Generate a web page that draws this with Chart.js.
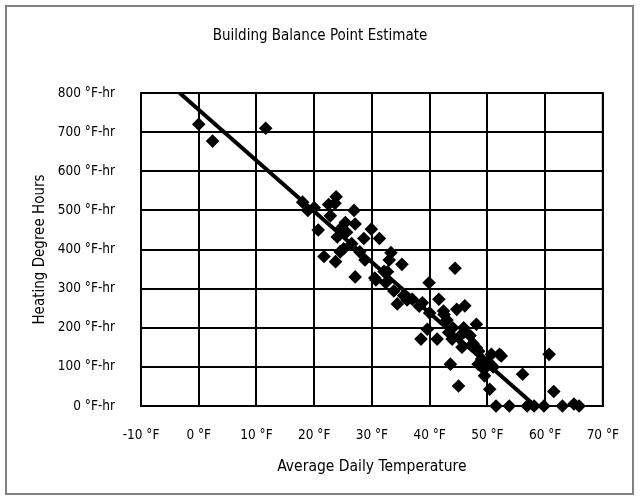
<!DOCTYPE html>
<html>
<head>
<meta charset="utf-8">
<script src="https://cdn.jsdelivr.net/npm/chart.js@4"></script>
<style>
	html, body { margin: 0; padding: 0; background: #fff; }
	#wrap { position: relative; width: 640px; height: 501px; }
	#frame { position: absolute; left: 5px; top: 5px; width: 629px; height: 490px; box-sizing: border-box; border: 2px solid #808080; pointer-events: none; }
</style>
</head>
<body>
<div id="wrap">
	<canvas id="chart" width="640" height="501"></canvas>
	<div id="frame"></div>
</div>
<script>
// Daily readings: average temperature (°F) and heating degree hours (°F-hr)
const temps = [
	0, 2.4, 11.6,
	18, 18.9, 20, 20.7, 21.7, 22.5, 23.8, 23.6, 22.8, 24, 23.7, 24.5, 25.4, 25.6, 25.1, 24.5,
	26.5, 26.9, 27.1, 27.9, 28.6, 28.8, 27.1, 29.9, 31.3, 30.5, 32.1, 33.3, 33, 35.2, 32.4,
	33.8, 34.4, 35.5, 32.7, 30.7, 36.1, 37, 38.2, 38.75,
	39.9, 44.4, 41.6, 42.4, 44.7, 46.1, 48.1, 39.6, 38.5, 41.3, 43.3, 45, 45.9, 45.6, 43.6,
	45, 48.1, 49, 50.7, 52.1, 49.5, 50.4, 48.4, 49.4, 50.5, 43.9, 42.5, 40, 43, 44, 46, 47,
	47.5, 48.5, 50, 51,
	51.5, 53.8, 56.9, 58.1, 59.8, 63, 65, 65.9,
	56.1, 60.7, 61.5, 52.4
];
const degreeHours = [
	720, 677, 710,
	521, 500, 507, 450, 382, 515, 535, 518, 486, 432, 369, 452, 469, 444, 402, 394,
	415, 500, 465, 394, 428, 373, 330, 452, 428, 327, 344, 392, 373, 362, 315,
	294, 261, 282, 343, 322, 271, 273, 255, 264,
	315, 352, 273, 243, 247, 256, 209, 196, 171, 171, 188, 175, 200, 150, 107,
	51, 149, 120, 132, 132, 77, 43, 107, 94, 107, 171, 234, 238, 220, 200, 190, 180,
	160, 140, 110, 100,
	0, 0, 0, 0, 0, 0, 5, 0,
	81, 132, 37, 128
];
// Fitted balance point line
const trendTemps = [-3.3, 58.3];
const trendValues = [800, 0];

const chartTitle = 'Building Balance Point Estimate';
const FONT = "'DejaVu Sans Condensed', 'DejaVu Sans', sans-serif";

const points = temps.map((t, i) => ({ x: t, y: degreeHours[i] }));
const trend = trendTemps.map((t, i) => ({ x: t, y: trendValues[i] }));

new Chart(document.getElementById('chart'), {
	type: 'scatter',
	data: {
		datasets: [
			{
				label: 'Heating Degree Hours',
				data: points,
				pointStyle: 'rectRot',
				pointRadius: 6.8,
				backgroundColor: '#000',
				borderColor: '#000',
				borderWidth: 0,
				clip: false,
				order: 2
			},
			{
				label: 'Trend',
				type: 'line',
				data: trend,
				borderColor: '#000',
				borderWidth: 4,
				pointRadius: 0,
				fill: false,
				order: 1
			}
		]
	},
	options: {
		responsive: false,
		animation: false,
		layout: { padding: { left: 0, right: 36, top: 93, bottom: 0 } },
		plugins: {
			legend: { display: false },
			tooltip: { enabled: false },
			title: { display: false }
		},
		scales: {
			x: {
				type: 'linear',
				min: -10,
				max: 70,
				afterFit: s => { s.height = 95; },
				border: { display: true, color: '#000', width: 2 },
				grid: { color: '#000', lineWidth: 2, drawTicks: false },
				ticks: {
					stepSize: 10,
					maxRotation: 0,
					autoSkip: false,
					padding: 21,
					color: '#000',
					font: { family: FONT, size: 13.5 },
					callback: v => v + ' °F'
				},
				title: {
					display: true,
					text: 'Average Daily Temperature',
					color: '#000',
					font: { family: FONT, size: 15.5 },
					padding: { top: 0, bottom: 25 }
				}
			},
			y: {
				type: 'linear',
				min: 0,
				max: 800,
				afterFit: s => { s.width = 141; },
				border: { display: true, color: '#000', width: 2 },
				grid: { color: '#000', lineWidth: 2, drawTicks: false },
				ticks: {
					stepSize: 100,
					padding: 26,
					color: '#000',
					font: { family: FONT, size: 13.5 },
					callback: v => v + ' °F-hr'
				},
				title: {
					display: true,
					text: 'Heating Degree Hours',
					color: '#000',
					font: { family: FONT, size: 15 },
					padding: { top: 31, bottom: 0 }
				}
			}
		}
	},
	plugins: [{
		id: 'frameAndTitle',
		afterDraw(chart) {
			const { ctx, chartArea: a } = chart;
			ctx.save();
			// solid outline round the plot area
			ctx.strokeStyle = '#000';
			ctx.lineWidth = 2;
			ctx.strokeRect(a.left, a.top, a.right - a.left, a.bottom - a.top);
			// title centred on the whole picture
			ctx.fillStyle = '#000';
			ctx.font = '15px ' + FONT;
			ctx.textAlign = 'center';
			ctx.textBaseline = 'middle';
			ctx.fillText(chartTitle, chart.width / 2, 36);
			ctx.restore();
		}
	}]
});
</script>
</body>
</html>
